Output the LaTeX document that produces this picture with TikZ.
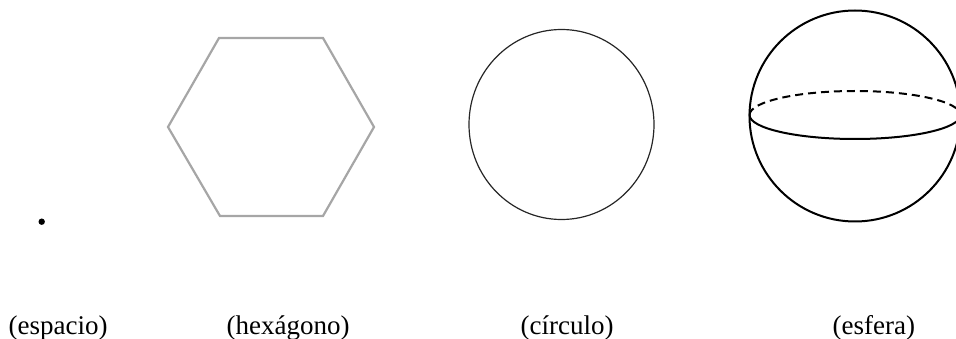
\documentclass[tikz,border=0pt]{standalone}
\usepackage{fontspec}
\setmainfont{Liberation Serif}
\begin{document}
\begin{tikzpicture}[x=1pt,y=-1pt,
  lbl/.style={anchor=base west,inner sep=0pt,font=\fontsize{27}{31}\selectfont},
  hexline/.style={draw=black!35,line width=2.2pt,line join=miter},
  thinline/.style={draw=black!85,line width=1.2pt},
  sphline/.style={draw=black,line width=2pt}]
\useasboundingbox (0,0) rectangle (956,339);
\begin{scope}
\clip (0,0) rectangle (956,339);
% dot
\fill (41.7,221.7) circle (3.2);
% hexagon
\coordinate (h1) at (219,38);
\coordinate (h2) at (323,38);
\coordinate (h3) at (374,127);
\coordinate (h4) at (323,216);
\coordinate (h5) at (220,216);
\coordinate (h6) at (168,127);
\draw[hexline] (h1) -- (h2) -- (h3) -- (h4) -- (h5) -- (h6) -- cycle;
% circle
\draw[thinline] (561.5,124.5) ellipse [x radius=92.5, y radius=95];
% sphere
\coordinate (sc) at (855,116);
\coordinate (ec) at (855,115);
\draw[sphline] (sc) circle (105.5);
\draw[sphline,dash pattern=on 8pt off 5pt] ([xshift=-105.5pt]ec) arc[start angle=180,end angle=360,x radius=105.5,y radius=24];
\draw[sphline] ([xshift=-105.5pt]ec) arc[start angle=180,end angle=0,x radius=105.5,y radius=24];
\end{scope}
% labels
\node[lbl] (l1) at (8.5,334) {(espacio)};
\node[lbl] (l2) at (226.5,334) {(hexágono)};
\node[lbl] (l3) at (520.5,334) {(círculo)};
\node[lbl] (l4) at (832.5,334) {(esfera)};
\end{tikzpicture}
\end{document}
